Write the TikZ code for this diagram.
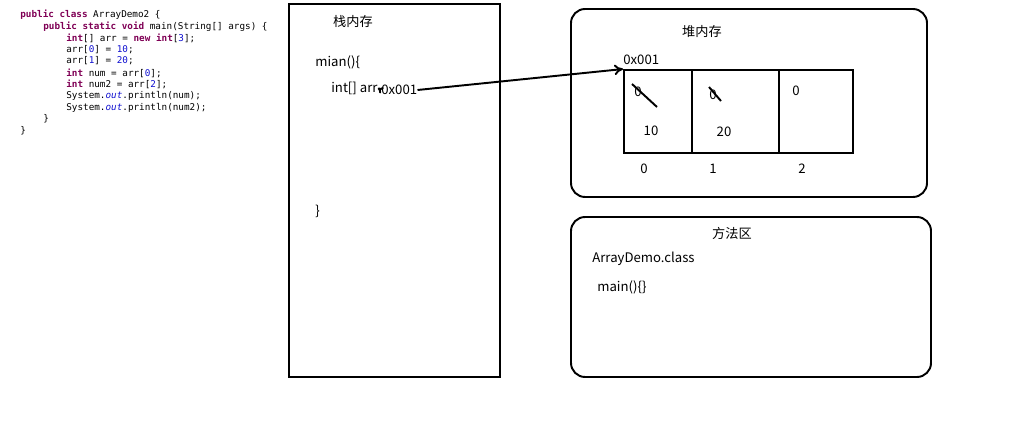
\documentclass[tikz,border=0pt]{standalone}
\usepackage{fontspec}
\setmainfont{Noto Sans CJK SC}
\setmonofont{DejaVu Sans Mono}
\usetikzlibrary{arrows.meta}
\definecolor{kwpurple}{HTML}{7F0055}
\definecolor{numblue}{HTML}{1010D0}
\newcommand{\kw}[1]{\textbf{\color{kwpurple}#1}}
\newcommand{\nm}[1]{{\color{numblue}#1}}
\newcommand{\fld}[1]{\textit{\color{numblue}#1}}
\tikzset{
  code/.style={anchor=west, inner sep=0pt, font=\ttfamily\fontsize{5.3}{6}\selectfont},
  txt/.style={inner sep=0pt, font=\fontsize{7.5}{9}\selectfont},
  cell/.style={draw, line width=1.1pt, minimum height=1.66cm, inner sep=0pt},
  area/.style={line width=1.1pt},
  pointer/.style={line width=1.1pt, -{To[length=5pt,width=6pt]}},
  slash/.style={line width=1.1pt}
}
\begin{document}
\begin{tikzpicture}[x=0.02cm, y=-0.02cm]
  \useasboundingbox (0,0) rectangle (1024,432);
  % source code
  \node[code] (code1) at (20,15) {\kw{public} \kw{class} ArrayDemo2 \{};
  \node[code] (code2) at (43,27) {\kw{public} \kw{static} \kw{void} main(String[] args) \{};
  \node[code] (code3) at (66,38) {\kw{int}[] arr = \kw{new} \kw{int}[\nm{3}];};
  \node[code] (code4) at (66,50) {arr[\nm{0}] = \nm{10};};
  \node[code] (code5) at (66,61) {arr[\nm{1}] = \nm{20};};
  \node[code] (code6) at (66,73) {\kw{int} num = arr[\nm{0}];};
  \node[code] (code7) at (66,84) {\kw{int} num2 = arr[\nm{2}];};
  \node[code] (code8) at (66,96) {System.\fld{out}.println(num);};
  \node[code] (code9) at (66,108) {System.\fld{out}.println(num2);};
  \node[code] (code10) at (43,119) {\}};
  \node[code] (code11) at (20,131) {\}};
  % stack
  \draw[area] (289,4) rectangle (500,377);
  \node[txt] (stacktitle) at (353,22) {栈内存};
  \node[txt, anchor=west] (mainopen) at (315,62) {mian()\{};
  \node[txt, anchor=west] (arr) at (331,88) {int[] arr};
  \node[txt, anchor=west] (addr) at (381,90) {0x001};
  \node[txt, anchor=west] (mainclose) at (315,211) {\}};
  % heap
  \draw[area, rounded corners=8pt] (571,9) rectangle (927,197);
  \node[txt] (heaptitle) at (702,32) {堆内存};
  \node[txt, anchor=west] (heapaddr) at (623,60) {0x001};
  \node[cell, minimum width=1.36cm] (cell0) at (658,111.5) {};
  \node[cell, minimum width=1.74cm] (cell1) at (735.5,111.5) {};
  \node[cell, minimum width=1.48cm] (cell2) at (816,111.5) {};
  \node[txt] (old0) at (638,92) {0};
  \draw[slash] (632,84) -- (657,107);
  \node[txt] (val0) at (651,131) {10};
  \node[txt] (old1) at (713,95) {0};
  \draw[slash] (709,87) -- (721,101);
  \node[txt] (val1) at (724,132) {20};
  \node[txt] (val2) at (796,91) {0};
  \node[txt] (idx0) at (644,169) {0};
  \node[txt] (idx1) at (713,169) {1};
  \node[txt] (idx2) at (802,169) {2};
  % method area
  \draw[area, rounded corners=8pt] (571,217) rectangle (931,377);
  \node[txt] (methodtitle) at (732,233) {方法区};
  \node[txt, anchor=west] (classname) at (592,259) {ArrayDemo.class};
  \node[txt, anchor=west] (mainmethod) at (597,287) {main()\{\}};
  % pointers
  \draw[pointer] (addr.east) -- (cell0.north west);
  \draw[line width=1.1pt, -{To[length=3pt,width=4pt]}] (addr.west) -- (arr.east);
\end{tikzpicture}
\end{document}
